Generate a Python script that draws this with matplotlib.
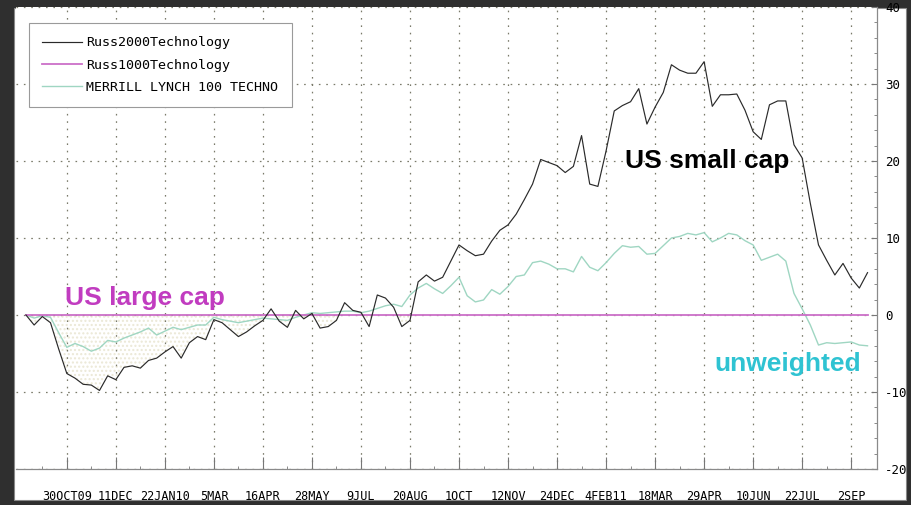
import numpy as np
import matplotlib.pyplot as plt
from matplotlib.patches import Rectangle
from matplotlib.ticker import FixedLocator, MultipleLocator

plt.rcParams['axes.unicode_minus'] = False

# weekly relative performance (%), first point = 25 Sep 2009
r2000 = [
    0.0, -1.3, -0.2, -1.0, -4.4, -7.6, -8.2, -9.0, -9.1, -9.8,
    -7.9, -8.4, -6.8, -6.6, -6.9, -5.9, -5.6, -4.8, -4.1, -5.6,
    -3.6, -2.8, -3.2, -0.6, -1.0, -1.9, -2.8, -2.2, -1.4, -0.7,
    0.8, -0.8, -1.6, 0.6, -0.5, 0.2, -1.7, -1.5, -0.7, 1.6,
    0.6, 0.35, -1.5, 2.6, 2.2, 1.0, -1.5, -0.7, 4.3, 5.2,
    4.4, 4.9, 7.0, 9.1, 8.35, 7.7, 7.9, 9.6, 11.0, 11.7,
    13.1, 15.0, 17.0, 20.2, 19.8, 19.4, 18.5, 19.3, 23.3, 17.0,
    16.7, 21.3, 26.5, 27.2, 27.7, 29.4, 24.8, 27.0, 28.9, 32.5,
    31.8, 31.4, 31.4, 32.9, 27.1, 28.6, 28.6, 28.7, 26.6, 23.8,
    22.8, 27.3, 27.8, 27.8, 22.1, 20.4, 14.5, 9.1, 7.1, 5.2,
    6.7, 4.8, 3.5, 5.5]
ml100 = [
    0.0, -0.4, -0.1, -0.3, -2.3, -4.2, -3.7, -4.1, -4.7, -4.3,
    -3.3, -3.5, -3.0, -2.6, -2.2, -1.7, -2.6, -2.1, -1.6, -1.9,
    -1.6, -1.3, -1.3, -0.3, -0.6, -0.8, -1.0, -0.8, -0.6, -0.4,
    -0.5, -0.6, -0.7, -0.3, 0.0, 0.3, 0.2, 0.3, 0.4, 0.5,
    0.5, 0.3, 0.5, 0.85, 1.2, 1.4, 1.1, 2.6, 3.5, 4.1,
    3.4, 2.8, 3.8, 4.9, 2.5, 1.7, 1.95, 3.3, 2.7, 3.7,
    5.0, 5.2, 6.8, 7.0, 6.6, 6.0, 6.0, 5.6, 7.6, 6.2,
    5.75, 6.8, 8.0, 9.0, 8.8, 8.9, 7.9, 8.0, 9.0, 10.0,
    10.2, 10.6, 10.4, 10.7, 9.5, 10.0, 10.6, 10.4, 9.65, 9.1,
    7.1, 7.5, 7.9, 7.0, 2.8, 0.8, -1.3, -3.9, -3.6, -3.7,
    -3.6, -3.5, -3.9, -4.0]
r1000 = [0.0] * 104  # benchmark, flat at zero

x_labels = ['30OCT09', '11DEC', '22JAN10', '5MAR', '16APR', '28MAY', '9JUL', '20AUG',
            '1OCT', '12NOV', '24DEC', '4FEB11', '18MAR', '29APR', '10JUN', '22JUL', '2SEP']
names = ['Russ2000Technology', 'Russ1000Technology', 'MERRILL LYNCH 100 TECHNO']

W, H = 912, 505
fig = plt.figure(figsize=(W / 100, H / 100), dpi=100, facecolor='#2f2f2f')
fig.patches.append(Rectangle((14 / W, 5 / H), 892 / W, 492 / H, transform=fig.transFigure,
                             facecolor='white', edgecolor='#888888', lw=0.8, zorder=-1))
ax = fig.add_axes([16 / W, 1 - 469 / H, 861 / W, 462 / H])

x = np.arange(len(r2000))
r2k, ml = np.array(r2000), np.array(ml100)
ax.fill_between(x, r2k, 0, where=r2k < 0, interpolate=True, facecolor='none',
                edgecolor='#ebe8d6', hatch='....', lw=0)
ax.plot(x, ml, color='#9fd6c2', lw=1.0, label=names[2], zorder=3)
ax.plot(x, r1000, color='#cc6fc8', lw=1.3, label=names[1], zorder=3)
ax.plot(x, r2k, color='#2a2a2a', lw=0.85, label=names[0], zorder=4)

ax.set_xlim(-1.22, 104.16)
ax.set_ylim(-20, 40)

ax.xaxis.set_major_locator(FixedLocator(np.arange(5, 104, 6)))
ax.xaxis.set_minor_locator(FixedLocator(np.arange(2, 104, 6)))
ax.set_xticklabels(x_labels, family='DejaVu Sans Mono', fontsize=8.5)
ax.yaxis.set_major_locator(MultipleLocator(10))
ax.yaxis.set_minor_locator(MultipleLocator(2))
ax.yaxis.tick_right()
ax.tick_params(axis='x', which='major', direction='in', length=9, color='#777777', pad=15)
ax.tick_params(axis='x', which='minor', direction='in', length=2.5, color='#777777')
ax.tick_params(axis='y', which='major', direction='in', length=4, color='#777777', pad=6,
               labelsize=9)
ax.tick_params(axis='y', which='minor', direction='in', length=2.5, color='#777777')
for lab in ax.get_yticklabels():
    lab.set_family('DejaVu Sans Mono')

ax.grid(True, which='major', color='#7a7a6a', lw=0.9, ls=(0, (1.3, 4.6)))
for s in ['top', 'left']:
    ax.spines[s].set_visible(False)
for s in ['right', 'bottom']:
    ax.spines[s].set_color('#8a8a8a')
    ax.spines[s].set_linewidth(0.9)

h, l = ax.get_legend_handles_labels()
order = [2, 1, 0]
leg = ax.legend([h[i] for i in order], [l[i] for i in order], loc='upper left',
                bbox_to_anchor=(29 / W, 1 - 23 / H), bbox_transform=fig.transFigure,
                borderaxespad=0, fancybox=False, framealpha=1, edgecolor='#9a9a9a',
                prop={'family': 'DejaVu Sans Mono', 'size': 9.6}, handlelength=3.0,
                labelspacing=0.7, borderpad=1.0, handletextpad=0.3)
leg.get_frame().set_linewidth(0.8)

ax.text(73.3, 20.0, 'US small cap', fontsize=19, fontweight='bold', color='black',
        family='Liberation Sans', ha='left', va='center', zorder=6)
ax.text(4.8, 2.2, 'US large cap', fontsize=19, fontweight='bold', color='#c13cc0',
        family='Liberation Sans', ha='left', va='center', zorder=6)
ax.text(84.3, -6.4, 'unweighted', fontsize=19, fontweight='bold', color='#2fc3d2',
        family='Liberation Sans', ha='left', va='center', zorder=6)

fig.savefig('out.png', dpi=100, facecolor=fig.get_facecolor())
